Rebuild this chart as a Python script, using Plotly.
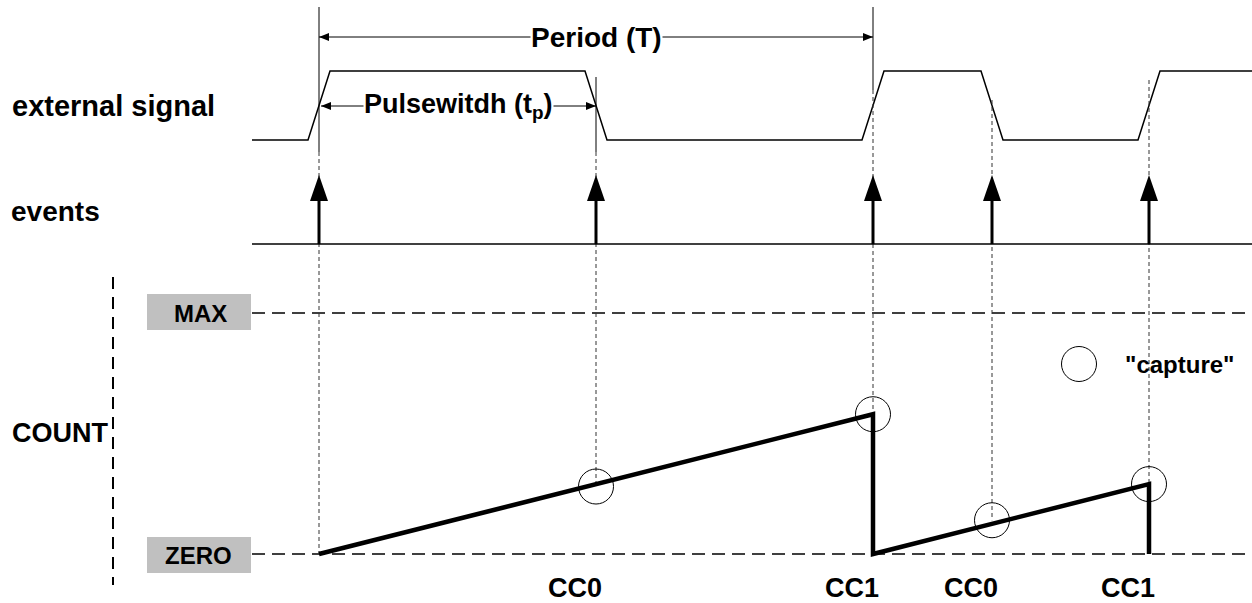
import plotly.graph_objects as go

W, H = 1252, 603

# --- data -------------------------------------------------------------
# event instants (signal edges), on a time axis that spans the figure
event_times = [319, 596, 873, 992, 1149]
# level of the external signal after each edge (starts low)
signal_levels = [1, 0, 1, 0, 1]
# counter value at each event (first event restarts the counter at zero)
event_counts = [0, 28, 58, 14, 29]
# counter trace: ramps up, then reset on CC1
count_t = [319, 873, 873, 1149, 1149]
count_v = [0, 58, 0, 29, 0]
COUNT_MAX = 100
capture_labels = ["CC0", "CC1", "CC0", "CC1"]

FONT = "Liberation Sans, Arial, sans-serif"
EDGE = 11  # half of the signal transition time


def axis_range(v_a, px_a, v_b, px_b):
    """Axis range so that value v_a sits at pixel row px_a and v_b at px_b."""
    s = (v_b - v_a) / (px_a - px_b)
    return [v_a - (H - px_a) * s, v_a + px_a * s]


def px_to_count(px):
    r = axis_range(0, 554, COUNT_MAX, 313)
    return r[1] - px * (r[1] - r[0]) / H


fig = go.Figure()

# external signal
sx, sy = [252], [0]
prev = 0
for t, lvl in zip(event_times, signal_levels):
    sx += [t - EDGE, t + EDGE]
    sy += [prev, lvl]
    prev = lvl
sx.append(W)
sy.append(prev)
fig.add_trace(go.Scatter(x=sx, y=sy, yaxis="y2", mode="lines",
                         line=dict(color="black", width=1.5), hoverinfo="skip"))

# dashed guide lines from the signal edges down to the counter
guide_top = [152, 152, 90, 100, 80]
for t, top, c in zip(event_times, guide_top, event_counts):
    fig.add_trace(go.Scatter(x=[t, t], y=[px_to_count(top), c], yaxis="y3", mode="lines",
                             line=dict(color="#333", width=1, dash="4px,3px"),
                             hoverinfo="skip"))

# counter
fig.add_trace(go.Scatter(x=count_t, y=count_v, yaxis="y3", mode="lines",
                         line=dict(color="black", width=4.5), hoverinfo="skip"))

# captures
fig.add_trace(go.Scatter(x=event_times[1:], y=event_counts[1:], yaxis="y3", mode="markers",
                         marker=dict(symbol="circle-open", size=35, color="black",
                                     line=dict(width=1)), hoverinfo="skip"))

# legend circle
fig.add_trace(go.Scatter(x=[1079], y=[364], mode="markers",
                         marker=dict(symbol="circle-open", size=35, color="black",
                                     line=dict(width=1)), hoverinfo="skip"))

shapes = []
# solid guide tops
for t, y0, y1 in [(319, 7, 152), (596, 77, 152), (873, 7, 90)]:
    shapes.append(dict(type="line", xref="x", yref="y", x0=t, x1=t, y0=y0, y1=y1,
                       line=dict(color="black", width=1)))

# events baseline and arrows
shapes.append(dict(type="line", xref="x", yref="y", x0=252, x1=W, y0=244, y1=244,
                   line=dict(color="black", width=1.5)))
for t in event_times:
    shapes.append(dict(type="line", xref="x", yref="y", x0=t, x1=t, y0=244, y1=198,
                       line=dict(color="black", width=3)))
    shapes.append(dict(type="path", xref="x", yref="y",
                       path=f"M{t},175 L{t - 9},201 L{t + 9},201 Z",
                       fillcolor="black", line=dict(color="black", width=0)))


def dim_arrow(x0, x1, y):
    shapes.append(dict(type="line", xref="x", yref="y", x0=x0, x1=x1, y0=y, y1=y,
                       line=dict(color="black", width=1)))
    shapes.append(dict(type="path", xref="x", yref="y",
                       path=f"M{x0},{y} L{x0 + 10},{y - 4} L{x0 + 10},{y + 4} Z",
                       fillcolor="black", line=dict(color="black", width=0)))
    shapes.append(dict(type="path", xref="x", yref="y",
                       path=f"M{x1},{y} L{x1 - 10},{y - 4} L{x1 - 10},{y + 4} Z",
                       fillcolor="black", line=dict(color="black", width=0)))


dim_arrow(event_times[0], event_times[2], 37)
dim_arrow(event_times[0] + 2, event_times[1], 106)

# COUNT axis marker
shapes.append(dict(type="line", xref="x", yref="y", x0=113, x1=113, y0=277, y1=585,
                   line=dict(color="black", width=2, dash="12px,8px")))

# MAX / ZERO levels
for v in (COUNT_MAX, 0):
    shapes.append(dict(type="line", xref="x", yref="y3", x0=252, x1=W, y0=v, y1=v,
                       line=dict(color="black", width=1.5, dash="13px,7px"), layer="below"))
for y0 in (294, 537):
    shapes.append(dict(type="rect", xref="x", yref="y", x0=147, x1=251, y0=y0, y1=y0 + 36,
                       fillcolor="#c0c0c0", line=dict(width=0)))

ann = []


def label(text, x, y, size=27, xanchor="left", bg=None):
    ann.append(dict(text=f"<b>{text}</b>", x=x, y=y, xref="x", yref="y",
                    showarrow=False, xanchor=xanchor, yanchor="middle",
                    font=dict(family=FONT, size=size, color="black"),
                    bgcolor=bg, borderpad=0))


label("external signal", 11, 106, size=29)
label("events", 10, 211, size=28)
label("COUNT", 11, 433)
label("Period (T)", 596, 37, size=28, xanchor="center", bg="white")
label("Pulsewitdh (t<sub>p</sub>)", 458, 106, size=27, xanchor="center", bg="white")
label("MAX", 200, 313, size=24, xanchor="center")
label("ZERO", 198, 555, size=24, xanchor="center")
label('"capture"', 1124, 364, size=24)
for t, txt in zip(event_times[1:], capture_labels):
    label(txt, t + 7, 588, size=27, xanchor="right")

hidden = dict(visible=False, showgrid=False, zeroline=False, fixedrange=True)
fig.update_layout(
    width=W, height=H, margin=dict(l=0, r=0, t=0, b=0),
    paper_bgcolor="white", plot_bgcolor="white", showlegend=False,
    xaxis=dict(range=[0, W], **hidden),
    yaxis=dict(range=[H, 0], **hidden),
    yaxis2=dict(range=axis_range(0, 140, 1, 71), overlaying="y", **hidden),
    yaxis3=dict(range=axis_range(0, 554, COUNT_MAX, 313), overlaying="y", **hidden),
    shapes=shapes, annotations=ann,
)

fig.write_html("out.html", config={"displayModeBar": False},
               post_script="document.body.style.margin='0px';")
